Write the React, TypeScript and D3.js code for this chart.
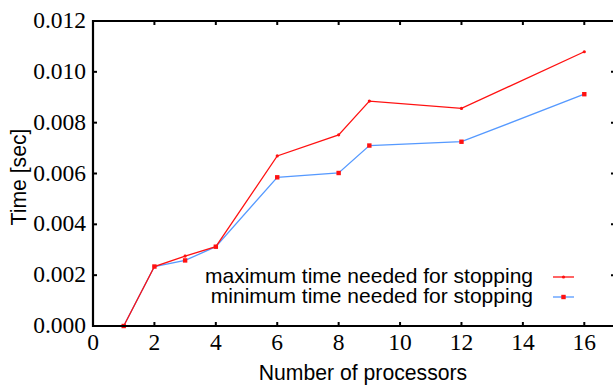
import * as d3 from "d3";

const procs = [1, 2, 3, 4, 6, 8, 9, 12, 16];
const maxTime = [0, 0.00234, 0.00275, 0.00312, 0.00669, 0.00752, 0.00885, 0.00856, 0.01079];
const minTime = [0, 0.00234, 0.00258, 0.00312, 0.00585, 0.00602, 0.00710, 0.00725, 0.00912];
const xTicks = [0, 2, 4, 6, 8, 10, 12, 14, 16];
const yTicks = [0, 0.002, 0.004, 0.006, 0.008, 0.01, 0.012];
const legendLabels = ["maximum time needed for stopping", "minimum time needed for stopping"];

const W = 613;
const H = 385;
const m = { left: 93, right: 615, top: 21, bottom: 326 };

export default function App() {
  const x = d3.scaleLinear().domain([0, 17]).range([m.left, m.right]);
  const y = d3.scaleLinear().domain([0, 0.012]).range([m.bottom, m.top]);
  const line = d3
    .line<[number, number]>()
    .x((d) => x(d[0]))
    .y((d) => y(d[1]));
  const maxPts = procs.map((p, i) => [p, maxTime[i]] as [number, number]);
  const minPts = procs.map((p, i) => [p, minTime[i]] as [number, number]);
  const serif = "Liberation Serif";
  const sans = "Liberation Sans";
  const fmt = d3.format(".3f");

  return (
    <svg
      width={W}
      height={H}
      style={{ position: "absolute", left: 0, top: 0, background: "#fff" }}
    >
      {/* data */}
      <path d={line(minPts) ?? ""} fill="none" stroke="#5599ff" strokeWidth={1.3} />
      <path d={line(maxPts) ?? ""} fill="none" stroke="#ff1111" strokeWidth={1.3} />
      {minPts.map((d, i) => (
        <rect key={"n" + i} x={x(d[0]) - 2.2} y={y(d[1]) - 2.2} width={4.4} height={4.4} fill="#ff1111" />
      ))}
      {maxPts.map((d, i) => (
        <circle key={"x" + i} cx={x(d[0])} cy={y(d[1])} r={1.6} fill="#ff1111" />
      ))}

      {/* frame */}
      <line x1={m.left} x2={W} y1={m.top} y2={m.top} stroke="#000" strokeWidth={2.2} />
      <line x1={m.left} x2={W} y1={m.bottom} y2={m.bottom} stroke="#000" strokeWidth={2.2} />
      <line x1={m.left} x2={m.left} y1={m.top - 1} y2={m.bottom + 1} stroke="#000" strokeWidth={2.2} />

      {xTicks.map((t) => (
        <g key={"xt" + t}>
          <line x1={x(t)} x2={x(t)} y1={m.bottom} y2={m.bottom - 4} stroke="#000" strokeWidth={2} />
          <line x1={x(t)} x2={x(t)} y1={m.top} y2={m.top + 4} stroke="#000" strokeWidth={2} />
          <text x={x(t)} y={m.bottom + 23.5} textAnchor="middle" fontFamily={serif} fontSize={23.5}>
            {t}
          </text>
        </g>
      ))}
      {yTicks.map((t) => (
        <g key={"yt" + t}>
          <line x1={m.left} x2={m.left + 4} y1={y(t)} y2={y(t)} stroke="#000" strokeWidth={2} />
          <line x1={m.right} x2={m.right - 4} y1={y(t)} y2={y(t)} stroke="#000" strokeWidth={2} />
          <text x={m.left - 7} y={y(t) + 7} textAnchor="end" fontFamily={serif} fontSize={23.5}>
            {fmt(t)}
          </text>
        </g>
      ))}

      {/* legend */}
      {legendLabels.map((label, i) => {
        const ly = 277 + i * 20;
        return (
          <g key={label}>
            <text x={533} y={ly + 6} textAnchor="end" fontFamily={sans} fontSize={21}>
              {label}
            </text>
            <line x1={553} x2={574} y1={ly} y2={ly} stroke={i === 0 ? "#ff1111" : "#5599ff"} strokeWidth={1.3} />
            {i === 0 ? (
              <circle cx={563.5} cy={ly} r={1.6} fill="#ff1111" />
            ) : (
              <rect x={561.3} y={ly - 2.2} width={4.4} height={4.4} fill="#ff1111" />
            )}
          </g>
        );
      })}

      {/* axis titles */}
      <text x={363} y={379.5} textAnchor="middle" fontFamily={sans} fontSize={21.2}>
        Number of processors
      </text>
      <text
        transform={`translate(25.5,177) rotate(-90)`}
        textAnchor="middle"
        fontFamily={sans}
        fontSize={21.2}
      >
        Time [sec]
      </text>
    </svg>
  );
}
